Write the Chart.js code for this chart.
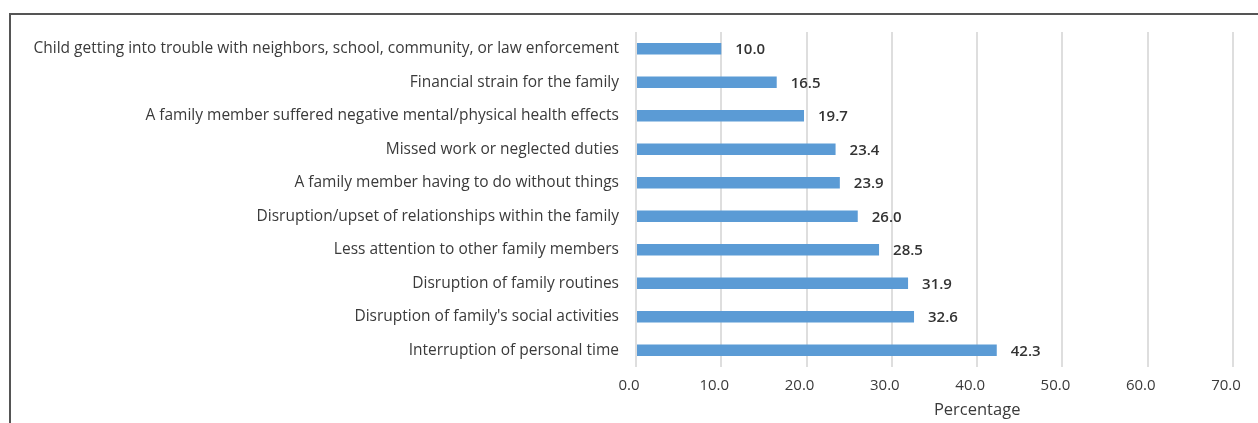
<!DOCTYPE html>
<html>
<head>
    <title>Family impact</title>
    <script src="https://cdn.jsdelivr.net/npm/chart.js"></script>
    <style>
        body {
            margin: 0;
            background: #fff;
        }
        #wrap {
            position: relative;
            width: 1258px;
            height: 423px;
        }
        #frame {
            position: absolute;
            left: 9px;
            top: 13px;
            right: 0;
            bottom: 0;
            border-top: 2px solid #555;
            border-left: 2px solid #555;
        }
        #chart {
            position: absolute;
            left: 0;
            top: 0;
        }
    </style>
</head>
<body>
    <div id="wrap">
        <div id="frame"></div>
        <canvas id="chart" width="1258" height="423"></canvas>
    </div>

    <script>
        const categories = [
            "Child getting into trouble with neighbors, school, community, or law enforcement",
            "Financial strain for the family",
            "A family member suffered negative mental/physical health effects",
            "Missed work or neglected duties",
            "A family member having to do without things",
            "Disruption/upset of relationships within the family",
            "Less attention to other family members",
            "Disruption of family routines",
            "Disruption of family's social activities",
            "Interruption of personal time"
        ];
        const percentages = [10.0, 16.5, 19.7, 23.4, 23.9, 26.0, 28.5, 31.9, 32.6, 42.3];
        const xTicks = [0, 10, 20, 30, 40, 50, 60, 70];
        const xTitle = 'Percentage';

        const font = '"Open Sans", "Liberation Sans", sans-serif';
        const textColor = '#3a3a3a';

        // value next to each bar
        const valueLabels = {
            id: 'valueLabels',
            afterDatasetsDraw(chart) {
                const ctx = chart.ctx;
                const meta = chart.getDatasetMeta(0);
                ctx.save();
                ctx.font = '600 15px ' + font;
                ctx.fillStyle = '#333';
                ctx.textAlign = 'left';
                ctx.textBaseline = 'middle';
                meta.data.forEach((bar, i) => {
                    ctx.fillText(percentages[i].toFixed(1), bar.x + 14, bar.y + 1);
                });
                ctx.restore();
            }
        };

        // axis title sits under the 40 tick, like the source layout
        const axisTitle = {
            id: 'axisTitle',
            afterDraw(chart) {
                const ctx = chart.ctx;
                const x = chart.scales.x;
                ctx.save();
                ctx.font = '16.5px ' + font;
                ctx.fillStyle = textColor;
                ctx.textAlign = 'center';
                ctx.textBaseline = 'middle';
                ctx.fillText(xTitle, x.getPixelForValue(40), 410);
                ctx.restore();
            }
        };

        new Chart(document.getElementById('chart'), {
            type: 'bar',
            data: {
                labels: categories,
                datasets: [{
                    data: percentages,
                    backgroundColor: '#5b9bd5',
                    barPercentage: 0.35,
                    categoryPercentage: 1
                }]
            },
            options: {
                indexAxis: 'y',
                responsive: false,
                animation: false,
                layout: {
                    padding: { left: 10, right: 25, top: 32, bottom: 0 }
                },
                plugins: {
                    legend: { display: false },
                    tooltip: { enabled: false }
                },
                scales: {
                    x: {
                        min: 0,
                        max: 70,
                        afterBuildTicks(scale) {
                            scale.ticks = xTicks.map(v => ({ value: v }));
                        },
                        afterFit(scale) {
                            scale.height = 56;
                        },
                        grid: {
                            color: '#dedede',
                            lineWidth: 2,
                            drawTicks: false
                        },
                        border: { display: false },
                        ticks: {
                            padding: 10,
                            labelOffset: -7,
                            color: textColor,
                            font: { family: font, size: 15 },
                            callback: v => Number(v).toFixed(1)
                        }
                    },
                    y: {
                        afterFit(scale) {
                            scale.width = 626;
                        },
                        grid: { display: false },
                        border: { display: false },
                        ticks: {
                            padding: 9,
                            color: textColor,
                            font: { family: font, size: 15.5 }
                        }
                    }
                }
            },
            plugins: [valueLabels, axisTitle]
        });
    </script>
</body>
</html>
